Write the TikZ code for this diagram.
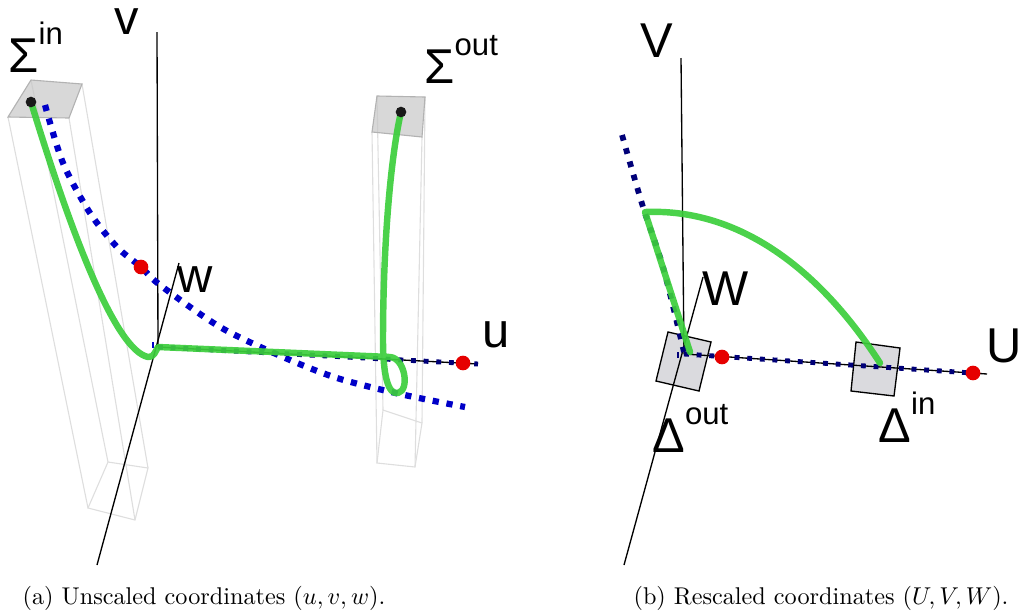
\documentclass[tikz,border=0pt]{standalone}
\usepackage{fontspec}
\newfontfamily\lblfont{Liberation Sans}
\definecolor{trajgreen}{RGB}{60,206,60}
\definecolor{darknavy}{RGB}{0,0,120}
\definecolor{dotblue}{RGB}{0,0,200}
\definecolor{markred}{RGB}{230,0,0}
\definecolor{boxgray}{RGB}{218,218,222}
\newcommand{\upidx}[1]{\raisebox{12.6pt}{\fontsize{14}{14}\selectfont #1}}
\begin{document}
\begin{tikzpicture}[x=0.45pt,y=-0.45pt,
  axis/.style={line width=0.6pt},
  boxedge/.style={draw=black!13,line width=0.5pt},
  boxtop/.style={fill=black!22,fill opacity=0.7,draw=black!30,line width=0.5pt},
  dotcurve/.style={dotblue,line width=2.8pt,dash pattern=on 2.8pt off 3.5pt},
  axisdots/.style={darknavy,line width=2.2pt,dash pattern=on 2.2pt off 3.5pt},
  traj/.style={trajgreen,line width=2.9pt,opacity=0.92,line cap=round,line join=round},
  lbl/.style={font=\lblfont\fontsize{22}{26}\selectfont,inner sep=0pt,anchor=base west},
  caption/.style={font=\fontsize{10.9}{13}\selectfont}]
  \useasboundingbox (0,0) rectangle (1019,613);
  % (a) unscaled coordinates
  \coordinate (O1) at (158,347);
  \coordinate (U1) at (478,364);
  % boxes round Sigma^in and Sigma^out
  \draw[boxedge] (8,117) -- (88,508) (69,118) -- (135,520) (82,84) -- (148,468) (31,80) -- (108,462);
  \draw[boxedge] (108,462) -- (148,468) -- (135,520) -- (88,508) -- cycle;
  \draw[boxtop] (31,80) -- (82,84) -- (69,118) -- (8,117) -- cycle;
  \draw[boxedge] (372,132) -- (377,463) (422,137) -- (415,467) (425,97) -- (422,423) (377,96) -- (383,410);
  \draw[boxedge] (383,410) -- (422,423) -- (415,467) -- (377,463) -- cycle;
  \draw[boxtop] (377,96) -- (425,97) -- (422,137) -- (372,132) -- cycle;
  % axes
  \draw[axis] (157,32) -- (O1);
  \draw[axis] (97,565) -- (179,263);
  \draw[axis] (O1) -- (U1);
  % dotted curves
  \draw[dotcurve] plot[smooth] coordinates {(45,105) (63,163) (90,213) (117,247) (141,267) (160,285) (220,327) (283,357) (337,378) (400,394) (465,407)};
  \draw[axisdots] (O1) -- (U1);
  \draw[dotblue,line width=0.6pt] (153,342) -- (153,348);
  % trajectory
  \draw[traj] (31,102) .. controls (70,230) and (115,350) .. (148,357)
    .. controls (154,358) and (156,350) .. (O1) -- (390,357)
    .. controls (405,358) and (410,390) .. (398,393)
    .. controls (388,395) and (383,375) .. (383,340)
    .. controls (383,250) and (390,160) .. (401,112);
  % points
  \fill[markred] (141,267) circle[radius=3.3pt] (463,363) circle[radius=3.3pt];
  \fill[black!90] (31,102) circle[radius=2.4pt] (401,112) circle[radius=2.4pt];
  % labels
  \node[lbl] (v) at (114,34) {v};
  \node[lbl] (w) at (177,292) {w};
  \node[lbl] (u) at (482,347) {u};
  \node[lbl] (Sin) at (8,72) {Σ\upidx{in}};
  \node[lbl] (Sout) at (424,83) {Σ\upidx{out}};
  \node[caption] (capa) at (204,598) {(a) Unscaled coordinates $(u,v,w)$.};
  % (b) rescaled coordinates
  \coordinate (O2) at (684,354);
  \coordinate (U2) at (987,374);
  % boxes Delta^out and Delta^in
  \draw[fill=boxgray,line width=0.6pt] (668,332) -- (711,342) -- (699,391) -- (656,381) -- cycle;
  \draw[fill=boxgray,line width=0.6pt] (856,342) -- (900,348) -- (894,396) -- (851,391) -- cycle;
  % axes
  \draw[axis] (681,58) -- (O2);
  \draw[axis] (624,565) -- (703,277);
  \draw[axis] (O2) -- (U2);
  % dotted curves
  \draw[axisdots,line width=2.6pt,dash pattern=on 2.6pt off 3.6pt] plot[smooth] coordinates {(622,135) (643,207) (663,267) (684,352)};
  \draw[axisdots] (O2) -- (U2);
  \draw[darknavy,line width=0.6pt] (678,352) -- (678,358);
  % trajectory
  \draw[traj] (690,352) -- (645,212) .. controls (740,208) and (820,270) .. (880,363);
  % points
  \fill[markred] (722,357) circle[radius=3.3pt] (973,373) circle[radius=3.3pt];
  % labels
  \node[lbl] (V) at (640,57) {V};
  \node[lbl] (W) at (702,305) {W};
  \node[lbl] (U) at (986,362) {U};
  \node[lbl] (Dout) at (652,452) {Δ\upidx{out}};
  \node[lbl] (Din) at (878,442) {Δ\upidx{in}};
  \node[caption] (capb) at (821,598) {(b) Rescaled coordinates $(U,V,W)$.};
\end{tikzpicture}
\end{document}
